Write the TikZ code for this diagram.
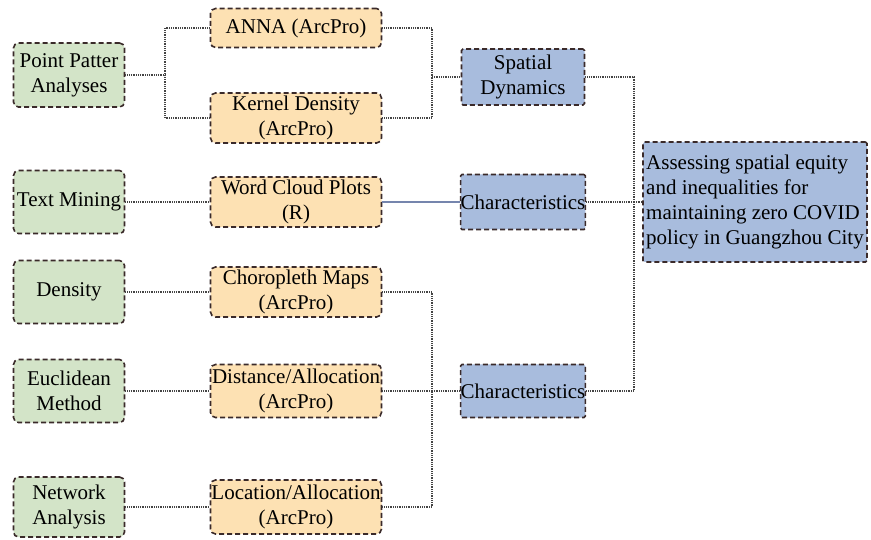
\documentclass[tikz,border=0pt]{standalone}
\usepackage{fontspec}
\setmainfont{LiberationSerif}[Extension=.ttf, UprightFont=*-Regular, BoldFont=*-Bold, ItalicFont=*-Italic, BoldItalicFont=*-BoldItalic]
\definecolor{boxline}{HTML}{3A2A2A}
\definecolor{gfill}{HTML}{D3E4C8}
\definecolor{ofill}{HTML}{FDE1B3}
\definecolor{bfill}{HTML}{A8BCDD}
\definecolor{connc}{HTML}{444444}
\definecolor{solidc}{HTML}{7585AD}
\begin{document}
\begin{tikzpicture}[x=1pt,y=-1pt,
  box/.style={draw=boxline, dash pattern=on 5pt off 3pt, line width=1.6pt, rounded corners=5pt, align=center, inner sep=0pt, font=\fontsize{21}{25}\selectfont},
  gbox/.style={box, fill=gfill, minimum width=111pt, minimum height=63pt},
  obox/.style={box, fill=ofill, minimum width=171pt, minimum height=50pt},
  bbox/.style={box, fill=bfill, minimum width=123pt, minimum height=55pt, rounded corners=1.5pt},
  conn/.style={draw=connc, line width=1.3pt, dash pattern=on 1pt off 0.8pt},
  solidconn/.style={draw=solidc, line width=1.5pt}]
\useasboundingbox (0,0) rectangle (871,540);
% green
\node[gbox, minimum height=64pt] (pp) at (69,75) {Point Patter\\Analyses};
\node[gbox] (tm) at (69,202) {Text Mining};
\node[gbox] (de) at (69,292) {Density};
\node[gbox] (eu) at (69,391) {Euclidean\\Method};
\node[gbox, minimum height=60pt] (na) at (69,507) {Network\\Analysis};
% orange
\node[obox, minimum height=39pt] (anna) at (296,28) {ANNA (ArcPro)};
\node[obox] (kd) at (296,118) {Kernel Density\\(ArcPro)};
\node[obox] (wc) at (296,202) {Word Cloud Plots\\(R)};
\node[obox] (cm) at (296,292) {Choropleth Maps\\(ArcPro)};
\node[obox, minimum height=53pt] (da) at (296,391) {Distance/Allocation\\(ArcPro)};
\node[obox, minimum height=54pt] (la) at (296,507) {Location/Allocation\\(ArcPro)};
% blue
\node[bbox, minimum height=56pt] (sd) at (523,77) {Spatial\\Dynamics};
\node[bbox] (ch1) at (523,202) {Characteristics};
\node[bbox, minimum height=53pt] (ch2) at (523,391) {Characteristics};
\node[bbox, minimum width=224pt, minimum height=120pt, align=left] (goal) at (755,202) {Assessing spatial equity\\and inequalities for\\maintaining zero COVID\\policy in Guangzhou City};
% junctions
\coordinate (j1) at (165,75);
\coordinate (j2) at (432,77);
\coordinate (j3) at (634,202);
\coordinate (j4) at (432,391);
% connectors
\draw[conn] (pp.east) -- (j1);
\draw[conn] (anna.west) -| (j1);
\draw[conn] (kd.west) -| (j1);
\draw[conn] (anna.east) -| (j2);
\draw[conn] (kd.east) -| (j2);
\draw[conn] (j2) -- (sd.west);
\draw[conn] (sd.east) -| (j3);
\draw[conn] (ch2.east) -| (j3);
\draw[conn] (ch1.east) -- (j3);
\draw[conn] (j3) -- (goal.west);
\draw[conn] (tm.east) -- (wc.west);
\draw[solidconn] (wc.east) -- (ch1.west);
\draw[conn] (de.east) -- (cm.west);
\draw[conn] (eu.east) -- (da.west);
\draw[conn] (na.east) -- (la.west);
\draw[conn] (cm.east) -| (j4);
\draw[conn] (la.east) -| (j4);
\draw[conn] (da.east) -- (j4);
\draw[conn] (j4) -- (ch2.west);
\end{tikzpicture}
\end{document}
